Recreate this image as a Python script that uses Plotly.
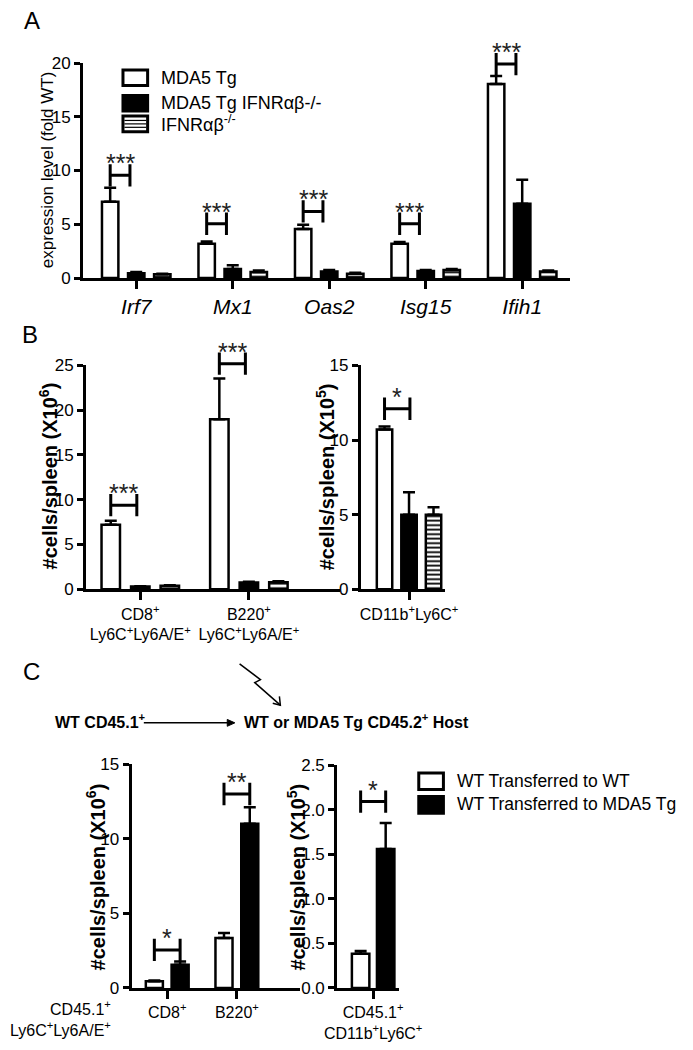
import plotly.graph_objects as go

W, H = 693, 1050
FONT = "Liberation Sans"

# ---------------- Panel A data ----------------
a_genes = ["Irf7", "Mx1", "Oas2", "Isg15", "Ifih1"]
a_names = ["MDA5 Tg", "MDA5 Tg IFNRαβ-/-", "IFNRαβ<sup>-/-</sup>"]
a_tg = [7.1, 3.2, 4.55, 3.2, 18.05]
a_tg_err = [1.3, 0.2, 0.4, 0.15, 0.75]
a_tgko = [0.45, 0.85, 0.6, 0.65, 6.9]
a_tgko_err = [0.1, 0.35, 0.15, 0.1, 2.25]
a_ko = [0.35, 0.55, 0.4, 0.75, 0.6]
a_ko_err = [0.05, 0.15, 0.1, 0.1, 0.1]
a_sig = ["***", "***", "***", "***", "***"]
a_sig_y = [9.55, 5.05, 6.2, 5.05, 19.9]
a_yticks = [0, 5, 10, 15, 20]

# ---------------- Panel B data ----------------
b1_cats = ["CD8<sup>+</sup><br>Ly6C<sup>+</sup>Ly6A/E<sup>+</sup>",
           "B220<sup>+</sup><br>Ly6C<sup>+</sup>Ly6A/E<sup>+</sup>"]
b1_tg = [7.2, 19.0]
b1_tg_err = [0.45, 4.55]
b1_tgko = [0.3, 0.75]
b1_tgko_err = [0.05, 0.1]
b1_ko = [0.4, 0.8]
b1_ko_err = [0.05, 0.1]
b1_sig = ["***", "***"]
b1_sig_y = [9.4, 25.2]
b1_yticks = [0, 5, 10, 15, 20, 25]

b2_cats = ["CD11b<sup>+</sup>Ly6C<sup>+</sup>"]
b2_tg = [10.7]
b2_tg_err = [0.2]
b2_tgko = [5.0]
b2_tgko_err = [1.5]
b2_ko = [5.0]
b2_ko_err = [0.5]
b2_sig = ["*"]
b2_sig_y = [12.1]
b2_yticks = [0, 5, 10, 15]

# ---------------- Panel C data ----------------
c_names = ["WT Transferred to WT", "WT Transferred to MDA5 Tg"]
c1_cats = ["CD8<sup>+</sup>", "B220<sup>+</sup>"]
c1_wt = [0.45, 3.35]
c1_wt_err = [0.05, 0.33]
c1_tg = [1.55, 11.0]
c1_tg_err = [0.23, 1.1]
c1_sig = ["*", "**"]
c1_sig_y = [2.55, 13.0]
c1_yticks = [0, 5, 10, 15]

c2_cats = ["CD45.1<sup>+</sup><br>CD11b<sup>+</sup>Ly6C<sup>+</sup>"]
c2_wt = [0.385]
c2_wt_err = [0.03]
c2_tg = [1.56]
c2_tg_err = [0.29]
c2_sig = ["*"]
c2_sig_y = [2.09]
c2_yticks = [0.0, 0.5, 1.0, 1.5, 2.0, 2.5]

# ---------------------------------------------------------------
def px(x):
    return x / W


def py(y):
    return 1 - y / H


STYLE = {
    "white": dict(color="white"),
    "black": dict(color="black"),
    "striped": dict(color="white", pattern=dict(shape="-", fgcolor="black", bgcolor="white",
                                                 size=4.5, solidity=0.4, fillmode="replace")),
}

fig = go.Figure()
layout_axes = {}
ann = []


def xaxis(k, left, right, rng, cats, italic=False, size=16):
    return dict(domain=[px(left), px(right)], range=rng, anchor=f"y{k}",
                tickmode="array", tickvals=list(range(len(cats))), ticktext=cats,
                tickangle=0,
                showline=True, linewidth=3, linecolor="black", ticks="outside", ticklen=8,
                tickwidth=2.5, tickcolor="black", showgrid=False, zeroline=False,
                tickfont=dict(size=size, family=FONT, color="black",
                              style="italic" if italic else "normal"),
                fixedrange=True)


def yaxis(k, top, bottom, rng, ticks, fmt=None):
    d = dict(domain=[py(bottom), py(top)], range=rng, anchor=f"x{k}",
             tickmode="array", tickvals=ticks,
             showline=True, linewidth=3, linecolor="black", ticks="outside", ticklen=6,
             tickwidth=2.5, tickcolor="black", showgrid=False, zeroline=False,
             tickfont=dict(size=17, family=FONT, color="black"), fixedrange=True)
    if fmt:
        d["tickformat"] = fmt
    return d


def panel(k, box, xrng, cats, yrng, yticks, series, step, width, span, sig, sig_y,
          italic=False, xsize=16, fmt=None, ext_top=None):
    left, right, top, bottom = box
    xa, ya = f"x{k}", f"y{k}"
    layout_axes[f"xaxis{k}"] = xaxis(k, left, right, xrng, cats, italic, xsize)
    layout_axes[f"yaxis{k}"] = yaxis(k, top, bottom, yrng, yticks, fmt)
    # invisible taller axis with identical scale, used for the significance marks
    ke = k + 5
    scale = (yrng[1] - yrng[0]) / (bottom - top)
    layout_axes[f"yaxis{ke}"] = dict(domain=[py(bottom), py(ext_top)],
                                     range=[yrng[0], yrng[0] + scale * (bottom - ext_top)],
                                     anchor=xa, visible=False, fixedrange=True)
    pos = list(range(len(cats)))
    n = len(series)
    for i, (name, vals, errs, style) in enumerate(series):
        c = (i - (n - 1) / 2) * step
        m = dict(STYLE[style])
        m["line"] = dict(color="black", width=2.5)
        fig.add_trace(go.Bar(
            x=pos, y=vals, width=width, offset=c - width / 2, marker=m,
            error_y=dict(type="data", symmetric=False, array=errs, arrayminus=[0] * len(errs),
                         color="black", thickness=2.5, width=6),
            xaxis=xa, yaxis=ya, name=name, showlegend=False))
    first = -(n - 1) / 2 * step
    bx, by = [], []
    for p, lvl in zip(pos, sig_y):
        bx += [p + first, p + first + span, None]
        by += [lvl, lvl, None]
    fig.add_trace(go.Scatter(
        x=bx, y=by, mode="lines+markers", line=dict(color="black", width=3),
        marker=dict(symbol="line-ns", size=16, color="black", line=dict(color="black", width=3)),
        xaxis=xa, yaxis=f"y{ke}", showlegend=False, hoverinfo="skip"))
    for p, lvl, s in zip(pos, sig_y, sig):
        ann.append(dict(x=p + first + span / 2, y=lvl, xref=xa, yref=f"y{ke}", text=s,
                        showarrow=False, xanchor="center", yanchor="middle", yshift=12,
                        font=dict(size=25, family=FONT, color="#222")))


panel(1, (74, 588, 55, 274), [-0.55, 4.5], a_genes, [0, 20], a_yticks,
      [(a_names[0], a_tg, a_tg_err, "white"),
       (a_names[1], a_tgko, a_tgko_err, "black"),
       (a_names[2], a_ko, a_ko_err, "striped")],
      step=0.27, width=0.17, span=0.205, sig=a_sig, sig_y=a_sig_y,
      italic=True, xsize=21, ext_top=20)
panel(2, (77, 345, 363, 591), [-0.5, 1.84], b1_cats, [0, 25], b1_yticks,
      [(a_names[0], b1_tg, b1_tg_err, "white"),
       (a_names[1], b1_tgko, b1_tgko_err, "black"),
       (a_names[2], b1_ko, b1_ko_err, "striped")],
      step=0.272, width=0.17, span=0.24, sig=b1_sig, sig_y=b1_sig_y, ext_top=325)
panel(3, (367, 456, 363, 591), [-0.53, 0.40], b2_cats, [0, 15], b2_yticks,
      [(a_names[0], b2_tg, b2_tg_err, "white"),
       (a_names[1], b2_tgko, b2_tgko_err, "black"),
       (a_names[2], b2_ko, b2_ko_err, "striped")],
      step=0.27, width=0.17, span=0.28, sig=b2_sig, sig_y=b2_sig_y, ext_top=325)
panel(4, (125, 303, 769, 997), [-0.513, 1.91], c1_cats, [0, 15], c1_yticks,
      [(c_names[0], c1_wt, c1_wt_err, "white"),
       (c_names[1], c1_tg, c1_tg_err, "black")],
      step=0.37, width=0.245, span=0.37, sig=c1_sig, sig_y=c1_sig_y, ext_top=745)
panel(5, (342, 407, 770, 997), [-0.545, 0.39], c2_cats, [0, 2.5], c2_yticks,
      [(c_names[0], c2_wt, c2_wt_err, "white"),
       (c_names[1], c2_tg, c2_tg_err, "black")],
      step=0.38, width=0.265, span=0.38, sig=c2_sig, sig_y=c2_sig_y, fmt=".1f", ext_top=745)

fig.update_layout(
    width=W, height=H, margin=dict(l=0, r=0, t=0, b=0),
    paper_bgcolor="white", plot_bgcolor="rgba(0,0,0,0)", showlegend=False,
    font=dict(family=FONT, color="black"),
    **layout_axes,
)


def text(x, y, s, size=16, bold=False, xanchor="center", yanchor="middle", angle=0, align="center"):
    ann.append(dict(x=px(x), y=py(y), xref="paper", yref="paper", text=s, showarrow=False,
                    xanchor=xanchor, yanchor=yanchor, textangle=angle, align=align,
                    font=dict(size=size, family=FONT, color="black",
                              weight="bold" if bold else "normal")))


# panel letters
text(20, 12, "A", size=24)
text(18, 331, "B", size=24)
text(20, 675, "C", size=24)

# y-axis titles
text(36, 164, "expression level (fold WT)", size=17, angle=-90)
text(37, 476, "#cells/spleen (X10<sup>6</sup>)", size=20, bold=True, angle=-90)
text(329, 476, "#cells/spleen (X10<sup>5</sup>)", size=20, bold=True, angle=-90)
text(87, 884, "#cells/spleen (X10<sup>6</sup>)", size=20, bold=True, angle=-90)
text(298, 884, "#cells/spleen (X10<sup>5</sup>)", size=20, bold=True, angle=-90)

# row header in C
text(106, 1028, "CD45.1<sup>+</sup><br>Ly6C<sup>+</sup>Ly6A/E<sup>+</sup>", size=16,
     xanchor="right", align="right")

# transfer scheme
text(42, 725, "WT CD45.1<sup>+</sup>", size=16, bold=True, xanchor="left")
text(242, 725, "WT or MDA5 Tg CD45.2<sup>+</sup> Host", size=16, bold=True, xanchor="left")

shapes = []


def path(points, width=1.5, fill=None, close=False):
    d = "M " + " L ".join(f"{px(x):.5f},{py(y):.5f}" for x, y in points)
    if close:
        d += " Z"
    shapes.append(dict(type="path", xref="paper", yref="paper", path=d,
                       line=dict(color="black", width=width),
                       fillcolor=fill if fill else "rgba(0,0,0,0)"))


path([(138, 727), (228, 727)], width=1.5)
path([(226, 723.5), (234, 727), (226, 730.5)], width=1, fill="black", close=True)
path([(239, 667), (261, 683), (255, 686), (282, 709)], width=1.5)
path([(274, 707), (282, 709), (281, 700)], width=1.5)


def rect(x0, y0, x1, y1, fill):
    shapes.append(dict(type="rect", xref="paper", yref="paper",
                       x0=px(x0), x1=px(x1), y0=py(y1), y1=py(y0),
                       line=dict(color="black", width=3), fillcolor=fill))


# legend A
leg_a_y = [70, 96, 117]
for i, (name, fill) in enumerate(zip(a_names, ["white", "black", "white"])):
    yc = leg_a_y[i]
    rect(116, yc - 8, 142, yc + 8, fill)
    text(154, yc, name, size=18, xanchor="left")
for yy in (-3.5, 0, 3.5):
    path([(117.5, leg_a_y[2] + yy), (140.5, leg_a_y[2] + yy)], width=1.2)

# legend C
leg_c_y = [786, 810]
for i, (name, fill) in enumerate(zip(c_names, ["white", "black"])):
    yc = leg_c_y[i]
    rect(428, yc - 8, 454, yc + 9, fill)
    text(466, yc, name, size=17.5, xanchor="left")

fig.update_layout(annotations=ann, shapes=shapes)
fig.write_html("out.html", config={"displayModeBar": False},
               post_script="document.body.style.margin='0';document.body.style.padding='0';")
